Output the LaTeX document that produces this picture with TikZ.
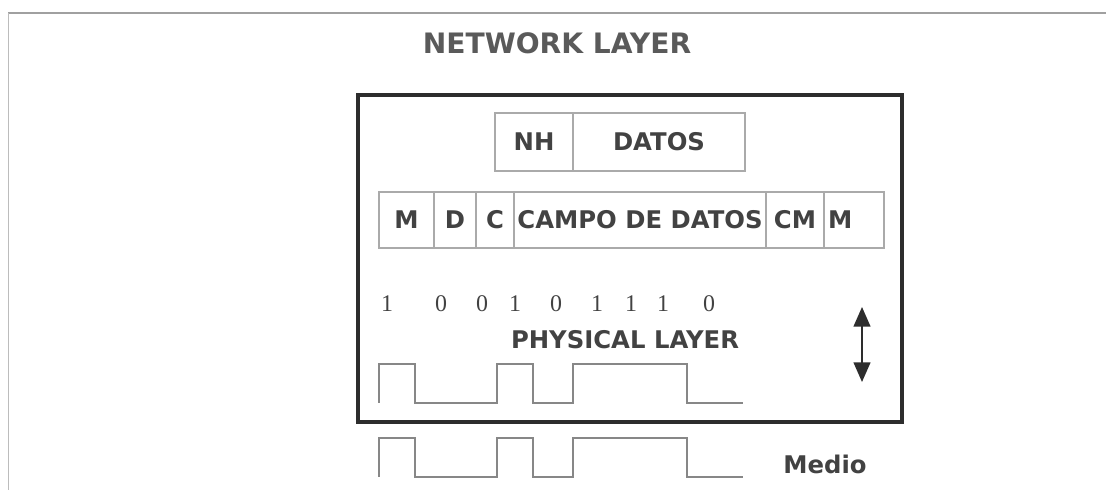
\documentclass[tikz,border=0pt]{standalone}
\usepackage{fontspec}
\setmainfont{DejaVu Sans}
\newfontfamily\bitfont{Liberation Serif}
\usetikzlibrary{positioning,arrows.meta}
\definecolor{inkclr}{RGB}{66,66,66}
\definecolor{titleclr}{RGB}{90,90,90}
\definecolor{frameclr}{RGB}{45,45,45}
\definecolor{cellclr}{RGB}{170,170,170}
\definecolor{waveclr}{RGB}{135,135,135}
\definecolor{pageclr}{RGB}{160,160,160}
\newcommand\pxu{0.025cm}
\tikzset{
  cell/.style={draw=cellclr, line width=0.9pt, inner sep=0pt, outer sep=0pt, minimum height=56*\pxu,
    font=\fontsize{17.3}{20}\selectfont\bfseries, text=inkclr},
  lbl/.style={inner sep=0pt, font=\fontsize{17.3}{20}\selectfont\bfseries, text=inkclr},
  bit/.style={inner sep=0pt, font=\bitfont\fontsize{17}{20}\selectfont, text=inkclr}
}
\begin{document}
\begin{tikzpicture}[x=0.025cm, y=-0.025cm]
  \useasboundingbox (0,0) rectangle (1106,490);
  % page edges of the scan
  \draw[pageclr, line width=0.8pt] (8,13) -- (1106,13);
  \draw[pageclr!70, line width=0.6pt] (8,13) -- (8,490);

  \node[lbl, font=\fontsize{20}{24}\selectfont\bfseries, text=titleclr] (title) at (557,43) {NETWORK LAYER};

  % physical layer box
  \draw[frameclr, line width=2.2pt] (358,95) rectangle (902,422);

  % network packet
  \node[cell, minimum height=58*\pxu, minimum width=78*\pxu, anchor=north west] (nh) at (495,113) {NH};
  \node[cell, minimum height=58*\pxu, minimum width=172*\pxu, right=0pt of nh] (datos) {DATOS};

  % frame
  \node[cell, minimum width=55*\pxu, anchor=north west] (mark1) at (379,192) {M};
  \node[cell, minimum width=42*\pxu, right=0pt of mark1] (dir) {D};
  \node[cell, minimum width=38*\pxu, right=0pt of dir] (ctl) {C};
  \node[cell, minimum width=252*\pxu, right=0pt of ctl] (campo) {CAMPO DE DATOS};
  \node[cell, minimum width=58*\pxu, right=0pt of campo] (cm) {CM};
  \node[cell, minimum width=60*\pxu, text width=52*\pxu, inner xsep=4*\pxu, align=left,
        right=0pt of cm] (mark2) {M};

  % bits
  \foreach \b/\x in {1/387, 0/441, 0/482, 1/515, 0/556, 1/597, 1/631, 1/663, 0/709}
    \node[bit] (bit\x) at (\x,304) {\b};

  \node[lbl] (phys) at (625,340) {PHYSICAL LAYER};

  % signals (inside the box and on the medium)
  \foreach \yo in {0,74}
    \draw[waveclr, line width=0.9pt] (379,403+\yo) -- (379,364+\yo) -- (415,364+\yo) -- (415,403+\yo)
      -- (497,403+\yo) -- (497,364+\yo) -- (533,364+\yo) -- (533,403+\yo) -- (573,403+\yo)
      -- (573,364+\yo) -- (687,364+\yo) -- (687,403+\yo) -- (743,403+\yo);

  \coordinate (up) at (862,307);
  \coordinate (dn) at (862,382);
  \draw[frameclr, line width=1.2pt, {Triangle[length=14pt, width=12pt]}-{Triangle[length=14pt, width=12pt]}] (up) -- (dn);

  \node[lbl] (medio) at (825,464) {Medio};
\end{tikzpicture}
\end{document}
